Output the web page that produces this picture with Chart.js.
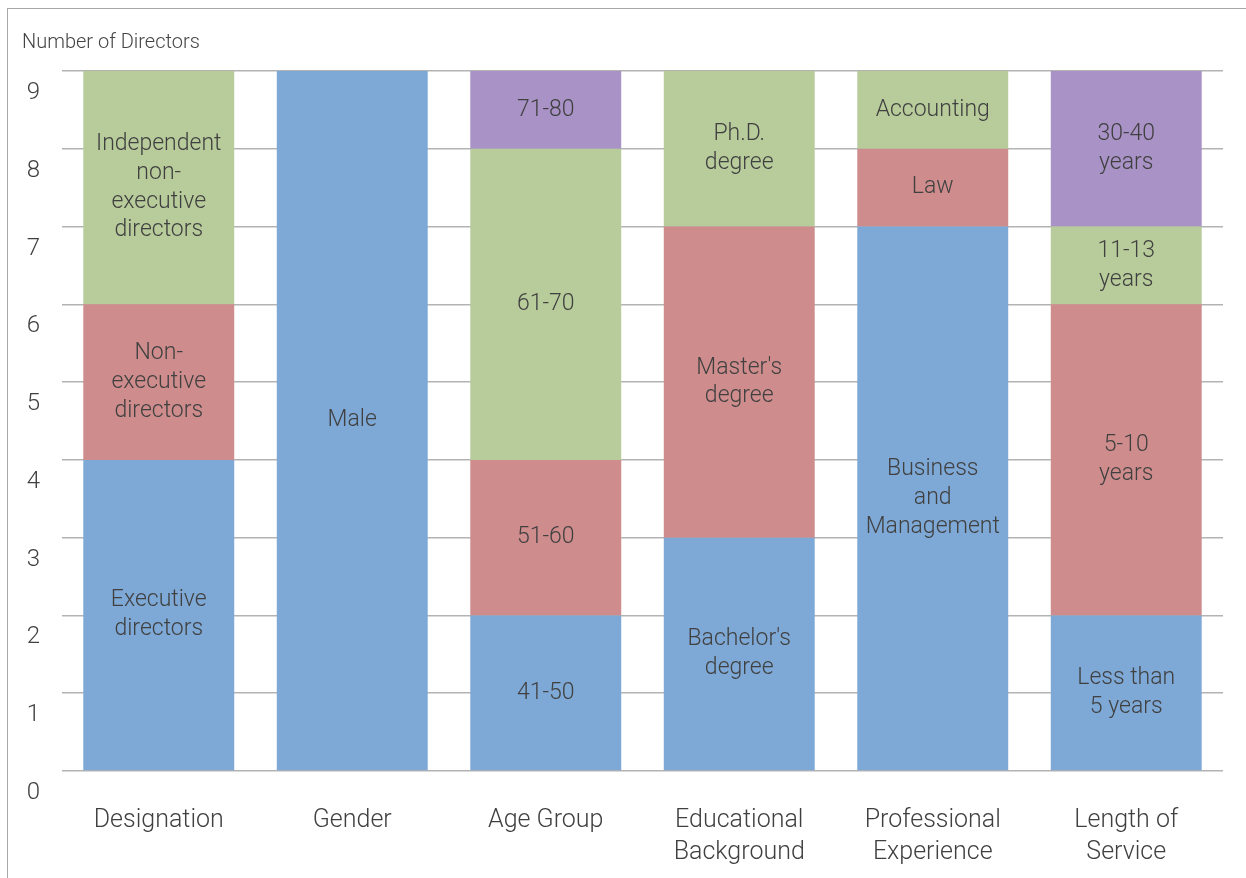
<!DOCTYPE html>
<html lang="en">
<head>
    <meta charset="UTF-8">
    <title>Number of Directors</title>
    <script src="https://cdn.jsdelivr.net/npm/chart.js"></script>
    <style>
        html, body { margin: 0; padding: 0; background: #fff; }
        #wrap { width: 1246px; height: 878px; }
    </style>
</head>
<body>
    <div id="wrap"><canvas id="myChart"></canvas></div>

    <script>
        // categories (x axis) and y ticks
        const categories = ['Designation', 'Gender', 'Age Group',
            ['Educational', 'Background'], ['Professional', 'Experience'], ['Length of', 'Service']];
        const yTicks = [0, 1, 2, 3, 4, 5, 6, 7, 8, 9];

        // stacked segments, bottom to top
        const blueValues   = [4, 9, 2, 3, 7, 2];
        const redValues    = [2, 0, 2, 4, 1, 4];
        const greenValues  = [3, 0, 4, 2, 1, 1];
        const purpleValues = [0, 0, 1, 0, 0, 2];

        const blueLabels   = ['Executive\ndirectors', 'Male', '41-50', "Bachelor's\ndegree", 'Business\nand\nManagement', 'Less than\n5 years'];
        const redLabels    = ['Non-\nexecutive\ndirectors', '', '51-60', "Master's\ndegree", 'Law', '5-10\nyears'];
        const greenLabels  = ['Independent\nnon-\nexecutive\ndirectors', '', '61-70', 'Ph.D.\ndegree', 'Accounting', '11-13\nyears'];
        const purpleLabels = ['', '', '71-80', '', '', '30-40\nyears'];

        const FONT = 'Roboto, "Liberation Sans", sans-serif';

        // text in the middle of each segment
        const segmentLabels = {
            id: 'segmentLabels',
            afterDatasetsDraw(chart) {
                const c = chart.ctx;
                c.save();
                c.font = '300 23px ' + FONT;
                c.fillStyle = '#404040';
                c.textAlign = 'center';
                c.textBaseline = 'middle';
                chart.data.datasets.forEach((ds, i) => {
                    const meta = chart.getDatasetMeta(i);
                    meta.data.forEach((bar, j) => {
                        const txt = ds.segLabels[j];
                        if (!txt || !ds.data[j]) return;
                        const lines = txt.split('\n');
                        const lh = 28.7;
                        const cy = (bar.y + bar.base) / 2;
                        lines.forEach((ln, k) => {
                            c.fillText(ln, bar.x, cy + (k - (lines.length - 1) / 2) * lh);
                        });
                    });
                });
                c.restore();
            }
        };

        // thin frame around the whole picture
        const frame = {
            id: 'frame',
            beforeDraw(chart) {
                const c = chart.ctx;
                c.save();
                c.strokeStyle = '#a8a8a8';
                c.lineWidth = 1;
                c.strokeRect(7.5, 8.5, 1400, 1000);
                c.restore();
            }
        };

        const ctx = document.getElementById('myChart').getContext('2d');

        const myChart = new Chart(ctx, {
            type: 'bar',
            data: {
                labels: categories,
                datasets: [
                    { label: 'Blue', data: blueValues, segLabels: blueLabels, backgroundColor: '#7ea9d6' },
                    { label: 'Red', data: redValues, segLabels: redLabels, backgroundColor: '#cf8c8c' },
                    { label: 'Green', data: greenValues, segLabels: greenLabels, backgroundColor: '#b8cc9b' },
                    { label: 'Purple', data: purpleValues, segLabels: purpleLabels, backgroundColor: '#a892c6' }
                ]
            },
            options: {
                responsive: true,
                maintainAspectRatio: false,
                animation: false,
                layout: { padding: { left: 22, right: 23, top: 0, bottom: 0 } },
                datasets: {
                    bar: { barPercentage: 0.78, categoryPercentage: 1.0, borderWidth: 0 }
                },
                plugins: {
                    legend: { display: false },
                    tooltip: { enabled: false },
                    title: {
                        display: true,
                        text: 'Number of Directors',
                        align: 'start',
                        color: '#444',
                        font: { family: FONT, size: 20, weight: 300 },
                        padding: { top: 31, bottom: 16 }
                    }
                },
                scales: {
                    x: {
                        stacked: true,
                        afterFit(scale) { scale.height = 107; },
                        grid: { display: false },
                        border: { display: false },
                        ticks: {
                            color: '#404040',
                            padding: 26,
                            font: { family: FONT, size: 25, weight: 300, lineHeight: 1.28 }
                        }
                    },
                    y: {
                        stacked: true,
                        min: 0,
                        max: 9,
                        afterFit(scale) { scale.width = 40; },
                        afterBuildTicks(scale) { scale.ticks = yTicks.map(v => ({ value: v })); },
                        grid: { color: '#b3b3b3', lineWidth: 1.5, drawTicks: false },
                        border: { display: false },
                        ticks: {
                            color: '#404040',
                            padding: 22,
                            labelOffset: 22,
                            font: { family: FONT, size: 24, weight: 300 }
                        }
                    }
                }
            },
            plugins: [frame, segmentLabels]
        });
    </script>
</body>
</html>
